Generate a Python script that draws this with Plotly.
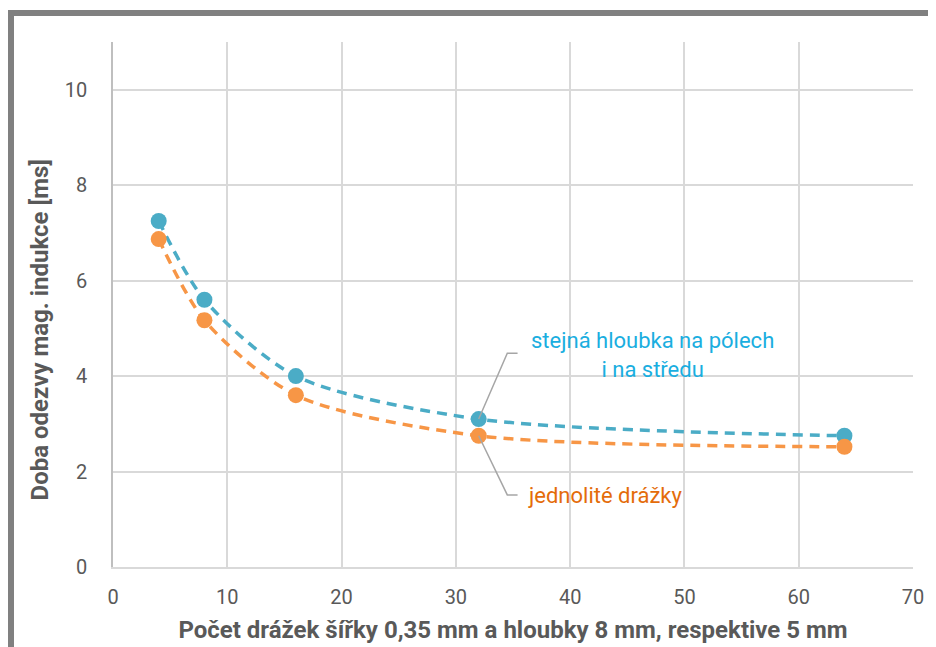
import plotly.graph_objects as go

x_vals = [4, 8, 16, 32, 64]
stejna = [7.25, 5.6, 4.0, 3.1, 2.75]
jednolite = [6.87, 5.17, 3.6, 2.75, 2.52]
x_ticks = [0, 10, 20, 30, 40, 50, 60, 70]
y_ticks = [0, 2, 4, 6, 8, 10]

blue = "#4BACC6"
orange = "#F79646"
grid = "#D9D9D9"
txt = "#595959"
font_family = "Roboto, 'Open Sans', sans-serif"

fig = go.Figure()
fig.add_trace(go.Scatter(
    x=x_vals, y=stejna, mode="lines+markers", name="stejná hloubka na pólech i na středu",
    line=dict(color=blue, width=3.5, dash="10px,7px", shape="spline", smoothing=0.8),
    marker=dict(color=blue, size=16)))
fig.add_trace(go.Scatter(
    x=x_vals, y=jednolite, mode="lines+markers", name="jednolité drážky",
    line=dict(color=orange, width=3.5, dash="10px,7px", shape="spline", smoothing=0.8),
    marker=dict(color=orange, size=16)))

# leader lines
leader = "#A6A6A6"
fig.add_shape(type="path", xref="x", yref="y",
              path=f"M {x_vals[3]},{stejna[3]} L 34.5,4.48 L 35.4,4.48",
              line=dict(color=leader, width=1.5))
fig.add_shape(type="path", xref="x", yref="y",
              path=f"M {x_vals[3]},{jednolite[3]} L 34.5,1.51 L 35.4,1.51",
              line=dict(color=leader, width=1.5))

fig.add_annotation(x=35.6, y=4.48, xref="x", yref="y", xanchor="left", yanchor="middle",
                   xshift=9, yshift=-2,
                   text="stejná hloubka na pólech<br>i na středu", showarrow=False, align="center",
                   font=dict(family=font_family, size=22, color="#1AAEE0"))
fig.add_annotation(x=35.6, y=1.51, xref="x", yref="y", xanchor="left", yanchor="middle",
                   xshift=6, yshift=-1,
                   text="jednolité drážky", showarrow=False,
                   font=dict(family=font_family, size=22, color="#E46C0A"))

# y-axis title placed as annotation (offset downward as in reference)
fig.add_annotation(x=-0.091, y=0.451, xref="paper", yref="paper", xanchor="center", yanchor="middle",
                   text="<b>Doba odezvy mag. indukce [ms]</b>", textangle=-90, showarrow=False,
                   font=dict(family=font_family, size=24, color=txt))

# outer frame (cropped)
fig.add_shape(type="path", xref="paper", yref="paper",
              path="M -0.1275,-0.5 L -0.1275,1.0552 L 1.5,1.0552",
              line=dict(color="#808080", width=6))

fig.update_layout(
    width=928, height=639,
    margin=dict(l=105, r=23, t=34, b=80, autoexpand=False),
    paper_bgcolor="white", plot_bgcolor="white",
    showlegend=False,
    font=dict(family=font_family, color=txt, size=19),
    xaxis=dict(range=[0, 70], tickvals=x_ticks, showgrid=True, gridcolor=grid, gridwidth=1.5,
               zeroline=False, showline=True, linecolor=grid, linewidth=1.5, automargin=False,
               ticks="", ticklabelstandoff=11, tickfont=dict(size=20, color=txt),
               title=dict(text="<b>Počet drážek šířky 0,35 mm a hloubky 8 mm, respektive 5 mm</b>",
                          font=dict(size=24, color=txt), standoff=13)),
    yaxis=dict(range=[0, 11], tickvals=y_ticks, showgrid=True, gridcolor=grid, gridwidth=1.5,
               zeroline=False, showline=True, linecolor="#BFBFBF", linewidth=1.5, automargin=False,
               ticks="", ticklabelstandoff=20, tickfont=dict(size=20, color=txt)),
)

fig.write_html("out.html")
